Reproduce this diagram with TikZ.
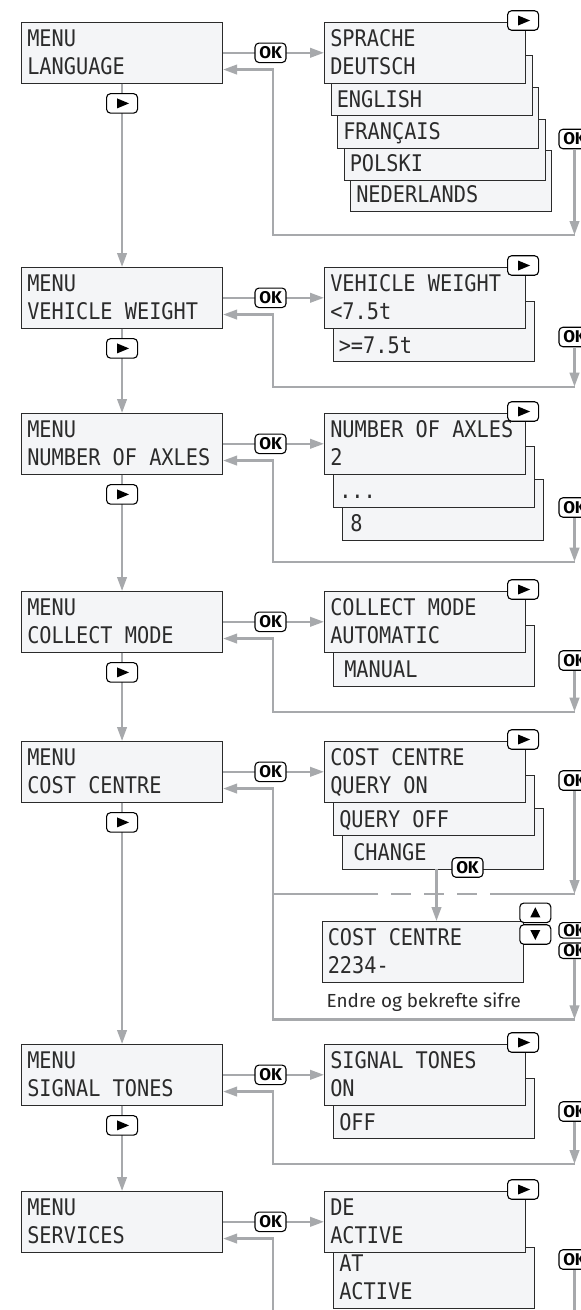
\documentclass[tikz,border=0pt]{standalone}
\usepackage{fontspec}
\usepackage{tikz}
\usetikzlibrary{positioning,arrows.meta}
\newfontfamily\lcdfont{DejaVu Sans Mono}[FakeStretch=0.885]
\newfontfamily\keyfont{Fira Sans}
\definecolor{lcdbg}{HTML}{F4F5F7}
\definecolor{lcdink}{HTML}{2B2B2B}
\definecolor{flowgray}{HTML}{A7A9AC}
\newcommand{\lcd}[2]{\vbox to 60.5pt{\offinterlineskip
  \hbox to 201pt{\hskip5.7pt\raisebox{0pt}[24pt][0pt]{#1}\hss}
  \hbox to 201pt{\hskip5.7pt\raisebox{0pt}[28pt][0pt]{#2}\hss}\vss}}

\begin{document}
\begin{tikzpicture}[x=1pt, y=-1pt,
  lcdbox/.style={draw=lcdink, line width=1.1pt, fill=lcdbg, inner sep=0pt, anchor=north west,
    text=lcdink, font=\lcdfont\fontsize{22.9pt}{28pt}\selectfont},
  flow/.style={draw=flowgray, line width=2.4pt, -{Triangle[length=14pt,width=9.5pt]}},
  flowline/.style={draw=flowgray, line width=2.4pt},
  btn/.style={draw=black, line width=1.1pt, fill=white, rounded corners=4pt,
    minimum width=31pt, minimum height=19.5pt, inner sep=0pt},
  okkey/.style={btn, font=\keyfont\bfseries\fontsize{17pt}{17pt}\selectfont,
    text height=11.7pt, text depth=0pt},
  playkey/.style={btn, path picture={\fill[black, sharp corners] (path picture bounding box.center)
    ++(-5pt,-5pt) -- ++(0pt,10pt) -- ++(12pt,-5pt) -- cycle;}},
  upkey/.style={btn, path picture={\fill[black, sharp corners] (path picture bounding box.center)
    ++(-5pt,-4.5pt) -- ++(10pt,0pt) -- ++(-5pt,10pt) -- cycle;}},
  downkey/.style={btn, path picture={\fill[black, sharp corners] (path picture bounding box.center)
    ++(-5pt,4.5pt) -- ++(10pt,0pt) -- ++(-5pt,-10pt) -- cycle;}},
  note/.style={text=lcdink, inner sep=0pt, font=\keyfont\fontsize{18.9pt}{21pt}\selectfont}]
\path[use as bounding box, fill=white] (0,0) rectangle (581,1310);
\clip (0,0) rectangle (581,1310);

\node[lcdbox] (m_lang) at (21,22) {\lcd{MENU}{LANGUAGE}};
\node[lcdbox] (m_weight) at (21,267) {\lcd{MENU}{VEHICLE WEIGHT}};
\node[lcdbox] (m_axles) at (21,413) {\lcd{MENU}{NUMBER OF AXLES}};
\node[lcdbox] (m_mode) at (21,591) {\lcd{MENU}{COLLECT MODE}};
\node[lcdbox] (m_cost) at (21,741) {\lcd{MENU}{COST CENTRE}};
\node[lcdbox] (m_tones) at (21,1044) {\lcd{MENU}{SIGNAL TONES}};
\node[lcdbox] (m_serv) at (21,1191) {\lcd{MENU}{SERVICES}};

\node[lcdbox] (s_lang5) at (350,150) {\lcd{}{NEDERLANDS}};
\node[lcdbox] (s_lang4) at (343.5,119) {\lcd{}{POLSKI}};
\node[lcdbox] (s_lang3) at (337,87) {\lcd{}{FRANÇAIS}};
\node[lcdbox] (s_lang2) at (330.5,54.5) {\lcd{}{ENGLISH}};
\node[lcdbox] (s_lang1) at (324,22) {\lcd{SPRACHE}{DEUTSCH}};

\node[lcdbox] (s_weight2) at (332.5,300.5) {\lcd{}{>=7.5t}};
\node[lcdbox] (s_weight1) at (324,267) {\lcd{VEHICLE WEIGHT}{<7.5t}};

\node[lcdbox] (s_axles3) at (342,479) {\lcd{}{\hspace{2pt}8}};
\node[lcdbox] (s_axles2) at (333,446) {\lcd{}{...}};
\node[lcdbox] (s_axles1) at (324,413) {\lcd{NUMBER OF AXLES}{2}};

\node[lcdbox] (s_mode2) at (333,625) {\lcd{}{\hspace{5pt}MANUAL}};
\node[lcdbox] (s_mode1) at (324,591) {\lcd{COLLECT MODE}{AUTOMATIC}};

\node[lcdbox] (s_cost3) at (342,808) {\lcd{}{\hspace{5pt}CHANGE}};
\node[lcdbox] (s_cost2) at (333,774.5) {\lcd{}{QUERY OFF}};
\node[lcdbox] (s_cost1) at (324,741) {\lcd{COST CENTRE}{QUERY ON}};
\node[lcdbox] (e_cost) at (321.5,921) {\lcd{COST CENTRE}{2234-}};
\node[note, anchor=base west] (n_cost) at (326.5,1007.3) {Endre og bekrefte sifre};

\node[lcdbox] (s_tones2) at (333,1077.5) {\lcd{}{OFF}};
\node[lcdbox] (s_tones1) at (324,1044) {\lcd{SIGNAL TONES}{ON}};

\node[lcdbox] (s_serv2) at (333,1247) {\lcd{AT}{ACTIVE}};
\node[lcdbox] (s_serv1) at (324,1191) {\lcd{DE}{ACTIVE}};

\node[okkey] (r_lang) at (574.5,139) {OK};
\node[okkey] (r_weight) at (574.5,337) {OK};
\node[okkey] (r_axles) at (574.5,507.5) {OK};
\node[okkey] (r_mode) at (574.5,660.5) {OK};
\node[okkey] (r_cost) at (574.5,780.5) {OK};
\node[okkey, minimum height=15.5pt] (r_edit1) at (574.5,930.3) {OK};
\node[okkey, minimum height=15.5pt] (r_edit2) at (574.5,950.7) {OK};
\node[okkey] (r_tones) at (574.5,1111.5) {OK};
\node[okkey] (r_serv) at (574.5,1259.5) {OK};

\coordinate (c_lang) at (273,235);
\coordinate (c_weight) at (273,386.7);
\coordinate (c_axles) at (273,561.7);
\coordinate (c_mode) at (273,711.7);
\coordinate (c_cost) at (273,894);
\coordinate (c_edit) at (273,1019.3);
\coordinate (c_tones) at (273,1164);
\coordinate (c_serv) at (273,1320);
\coordinate (d_left) at (378,894);
\coordinate (d_right) at (497,894);
\coordinate (d_change) at (436.5,869);

\draw[flow] (m_lang) -- (m_weight);
\draw[flow] (m_weight) -- (m_axles);
\draw[flow] (m_axles) -- (m_mode);
\draw[flow] (m_mode) -- (m_cost);
\draw[flow] (m_cost) -- (m_tones);
\draw[flow] (m_tones) -- (m_serv);

\foreach \m in {lang,weight,axles,mode,cost,tones,serv} {
  \draw[flow] (m_\m.east) -- node[okkey, pos=0.47] {OK} (s_\m1.west);
}
\foreach \m in {lang,weight,axles,mode,tones} {
  \draw[flow] (r_\m) -- (r_\m |- c_\m);
  \draw[flow] (r_\m |- c_\m) -- (c_\m) |- ([yshift=-16.75pt]m_\m.east);
}
\draw[flow] (r_cost) -- (r_cost |- c_cost);
\draw[flowline] (r_cost |- c_cost) -- (d_right);
\draw[flowline, dash pattern=on 20pt off 13pt, dash phase=20pt] (d_left) -- (d_right);
\draw[flowline] (d_left) -- (c_cost);
\draw[flow] (d_change) -- (d_change |- e_cost.north);
\draw[flow] (r_edit2) -- (r_edit2 |- c_edit);
\draw[flow] (r_edit2 |- c_edit) -- (c_edit) |- ([yshift=-16.75pt]m_cost.east);
\draw[flowline] (r_serv) -- (r_serv |- c_serv);
\draw[flow] (c_serv) |- ([yshift=-16.75pt]m_serv.east);

\foreach \m in {lang,weight,axles,mode,cost,tones} {
  \node[playkey, below=9.5pt of m_\m] {};
}
\foreach \m in {lang,weight,axles,mode,cost,tones,serv} {
  \node[playkey] at ([xshift=-3pt, yshift=1.5pt]s_\m1.north east) {};
}
\node[okkey] (k_change) at (467.5,867.5) {OK};
\node[upkey] (k_up) at (535.3,912.8) {};
\node[downkey] (k_down) at (535.3,934.5) {};
\end{tikzpicture}
\end{document}
